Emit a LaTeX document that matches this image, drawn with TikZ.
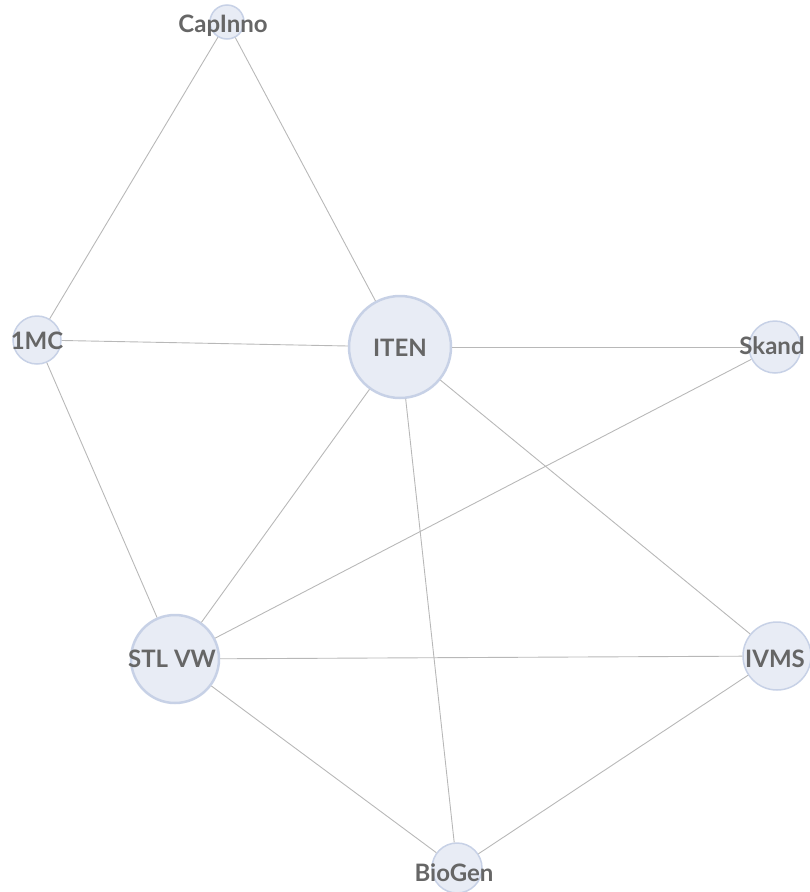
\documentclass[tikz,border=0pt]{standalone}
\usepackage{fontspec}
\setmainfont{Lato}
\usepackage{tikz}

\definecolor{nodefill}{HTML}{E8ECF5}
\definecolor{nodeline}{HTML}{C7D1E6}
\definecolor{edgegray}{HTML}{B8B8B8}
\definecolor{labelgray}{HTML}{666666}

\tikzset{
  partner/.style={circle, fill=nodefill, draw=nodeline, line width=1.5pt, inner sep=0pt},
  bigpartner/.style={partner, line width=2.5pt},
  tag/.style={text=labelgray, inner sep=0pt, font=\fontsize{24}{28}\selectfont\bfseries},
  link/.style={draw=edgegray, line width=0.9pt}
}

\begin{document}
\begin{tikzpicture}[x=1pt,y=-1pt]
\useasboundingbox (0,0) rectangle (809,892);
% partners
\node[partner, minimum size=34pt] (capinno) at (227,22) {};
\node[partner, minimum size=48pt] (onemc) at (37,340) {};
\node[bigpartner, minimum size=102pt] (iten) at (400,347) {};
\node[partner, minimum size=52pt] (skand) at (775,347) {};
\node[bigpartner, minimum size=88pt] (stlvw) at (175,659) {};
\node[partner, minimum size=68pt] (ivms) at (777,656) {};
\node[partner, minimum size=50pt] (biogen) at (457,868) {};
% links
\draw[link] (capinno) -- (onemc);
\draw[link] (capinno) -- (iten);
\draw[link] (onemc) -- (iten);
\draw[link] (onemc) -- (stlvw);
\draw[link] (iten) -- (skand);
\draw[link] (iten) -- (stlvw);
\draw[link] (iten) -- (biogen);
\draw[link] (iten) -- (ivms);
\draw[link] (skand) -- (stlvw);
\draw[link] (stlvw) -- (ivms);
\draw[link] (stlvw) -- (biogen);
\draw[link] (ivms) -- (biogen);
% labels
\node[tag] at (223,26) {CapInno};
\node[tag] at (37,341) {1MC};
\node[tag] at (400,348) {ITEN};
\node[tag] at (772,346) {Skand};
\node[tag] at (172,659) {STL VW};
\node[tag] at (775,659) {IVMS};
\node[tag] at (454,873) {BioGen};
\end{tikzpicture}
\end{document}
